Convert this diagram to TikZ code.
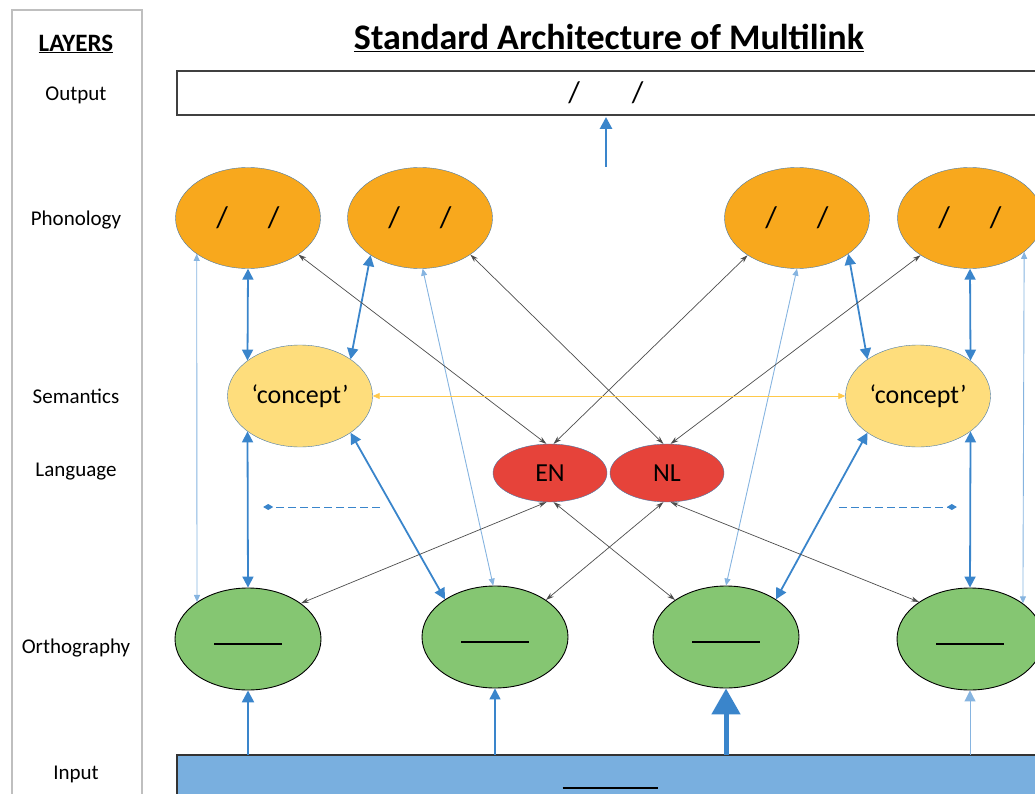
\documentclass[tikz,border=0pt]{standalone}
\usepackage{fontspec}
\setmainfont{Carlito}
\usetikzlibrary{arrows.meta,shapes.geometric}

\definecolor{phon}{HTML}{F8A81D}
\definecolor{sema}{HTML}{FEDD7C}
\definecolor{lang}{HTML}{E6433A}
\definecolor{orth}{HTML}{85C672}
\definecolor{inbox}{HTML}{79AFDF}
\definecolor{rim}{HTML}{4A7AA8}
\definecolor{link}{HTML}{3A85CB}
\definecolor{thinlink}{HTML}{86B4E0}
\definecolor{gold}{HTML}{FFC94A}
\definecolor{frame}{HTML}{BFBFBF}

\begin{document}
\begin{tikzpicture}[x=1pt,y=-1pt]
   \useasboundingbox (0,0) rectangle (1035,794);
   \clip (0,0) rectangle (1035,794);
   % layer column
   \draw[frame,line width=1.2pt] (12,10) rectangle (142,820);
   \begin{scope}[every node/.style={font=\fontsize{21}{21}\selectfont}]
    \node (layers) at (76,44) {\fontsize{25}{25}\selectfont\textbf{\underline{LAYERS}}};
    \node (lout) at (76,95) {Output};
    \node (lphon) at (76,220) {Phonology};
    \node (lsem) at (76,396) {Semantics};
    \node (llang) at (76,472) {Language};
    \node (lorth) at (76,648) {Orthography};
    \node (linp) at (76,774) {Input};
   \end{scope}
   \node (title) at (609,38) {\fontsize{36}{36}\selectfont\textbf{\underline{Standard Architecture of Multilink}}};
   % output and input bars
   \draw[black!75,line width=1.2pt] (177,71) rectangle (1100,115);
   \node (out) at (606,93) {\fontsize{30}{30}\selectfont /\hspace{52pt}/};
   \draw[black!80,line width=1.2pt,fill=inbox] (177,755) rectangle (1100,860);
   \node (inp) at (610,788) {\rule{95pt}{1.8pt}};
   \coordinate (outsrc) at (606,167);
   \coordinate (outtop) at (606,117);
   \coordinate (inptop) at (610,755);
   % phonology
   \begin{scope}[every node/.style={ellipse,draw=rim,fill=phon,minimum width=145pt,minimum height=101pt,inner sep=0pt,font=\fontsize{30}{30}\selectfont}]
    \node (p1) at (248,218) {/\hspace{40pt}/};
    \node (p2) at (420,218) {/\hspace{40pt}/};
    \node (p3) at (797,218) {/\hspace{40pt}/};
    \node (p4) at (970,218) {/\hspace{40pt}/};
   \end{scope}
   % semantics
   \begin{scope}[every node/.style={ellipse,draw=rim,fill=sema,minimum width=145pt,minimum height=102pt,inner sep=0pt,font=\fontsize{26}{26}\selectfont}]
    \node (s1) at (300,396) {‘concept’};
    \node (s2) at (918,396) {‘concept’};
   \end{scope}
   % language
   \begin{scope}[every node/.style={ellipse,draw=rim,fill=lang,minimum width=114pt,minimum height=58pt,inner sep=0pt,font=\fontsize{26}{26}\selectfont}]
    \node (en) at (550,473) {EN};
    \node (nl) at (667,473) {NL};
   \end{scope}
   % orthography
   \begin{scope}[every node/.style={ellipse,draw=black,line width=0.9pt,fill=orth,minimum width=146pt,minimum height=102pt,inner sep=0pt}]
    \node (o1) at (248,639) {\raisebox{-12pt}{\rule{68pt}{2pt}}};
    \node (o2) at (495,637) {\raisebox{-12pt}{\rule{68pt}{2pt}}};
    \node (o3) at (726,637) {\raisebox{-12pt}{\rule{68pt}{2pt}}};
    \node (o4) at (970,639) {\raisebox{-12pt}{\rule{68pt}{2pt}}};
   \end{scope}
   % phonology <-> semantics <-> orthography
   \begin{scope}[every edge/.style={draw=link,line width=1.8pt,{Triangle[width=11pt,length=11pt]}-{Triangle[width=11pt,length=11pt]}}]
    \draw (p1.south) edge (s1.146);
    \draw (p2.217) edge (s1.36);
    \draw (p3.-35) edge (s2.144);
    \draw (p4.south) edge (s2.34);
    \draw (s1.214) edge (o1.north);
    \draw (s1.-36) edge (o2.143);
    \draw (s2.216) edge (o3.37);
    \draw (s2.-34) edge (o4.north);
   \end{scope}
   % orthography <-> phonology
   \begin{scope}[every edge/.style={draw=thinlink,line width=0.9pt,{Triangle[width=6pt,length=7pt]}-{Triangle[width=6pt,length=7pt]}}]
    \draw (p1.215) edge (o1.144);
    \draw (p2.-87) edge (o2.92);
    \draw (p3.south) edge (o3.north);
    \draw (p4.-32) edge (o4.34);
   \end{scope}
   % language nodes
   \begin{scope}[every edge/.style={draw=black!70,line width=0.7pt,{Stealth[width=5pt,length=8pt]}-{Stealth[width=5pt,length=8pt]}}]
    \draw (p1.-36) edge (en.97);
    \draw (p3.217) edge (en.83);
    \draw (p2.-36) edge (nl.97);
    \draw (p4.217) edge (nl.83);
    \draw (en.-97) edge (o1.34);
    \draw (en.-83) edge (o3.144);
    \draw (nl.-97) edge (o2.36);
    \draw (nl.-83) edge (o4.144);
   \end{scope}
   \draw[gold,line width=0.8pt,{Triangle[width=6pt,length=7pt]}-{Triangle[width=6pt,length=7pt]}] (s1.east) -- (s2.west);
   % control (dashed)
   \coordinate (dl1) at (380,507);
   \coordinate (dl2) at (262,507);
   \coordinate (dr1) at (839,507);
   \coordinate (dr2) at (958,507);
   \draw[link,line width=1pt,dash pattern=on 8pt off 4pt,-{Diamond[width=6pt,length=10pt,sep]}] (dl1) -- (dl2);
   \draw[link,line width=1pt,dash pattern=on 8pt off 4pt,-{Diamond[width=6pt,length=10pt,sep]}] (dr1) -- (dr2);
   % input and output
   \draw[link,line width=2.8pt,-{Triangle[width=12pt,length=12pt]}] (outsrc) -- (outtop);
   \draw[link,line width=2.4pt,-{Triangle[width=12pt,length=12pt]}] (o1.south |- inptop) -- (o1.south);
   \draw[link,line width=1.4pt,-{Triangle[width=11pt,length=11pt]}] (o2.south |- inptop) -- (o2.south);
   \draw[link,line width=5pt,-{Triangle[width=28pt,length=26pt]}] (o3.south |- inptop) -- (o3.south);
   \draw[thinlink,line width=1pt,-{Triangle[width=11pt,length=11pt]}] (o4.south |- inptop) -- (o4.south);
\end{tikzpicture}
\end{document}
